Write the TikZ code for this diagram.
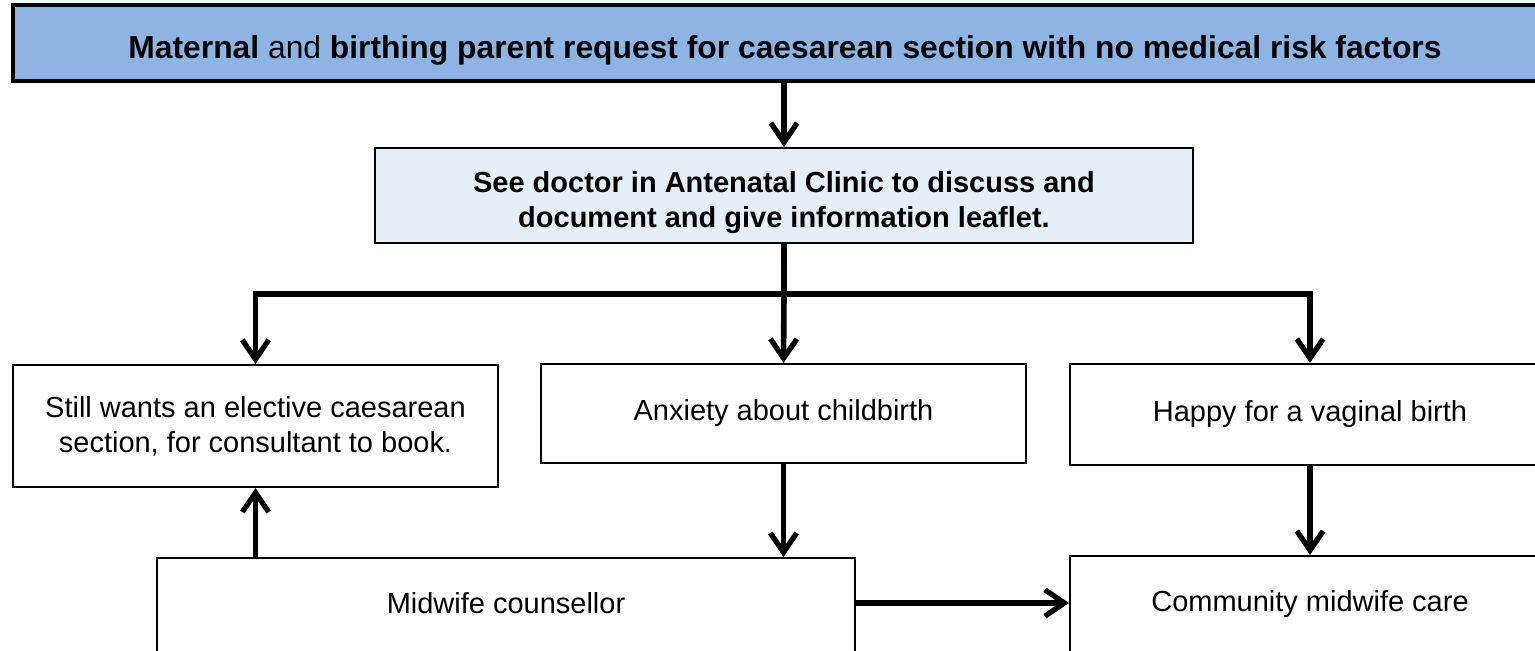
\documentclass[tikz,border=0pt]{standalone}
\usepackage{fontspec}
\setmainfont{Liberation Sans}
\usetikzlibrary{arrows.meta,calc}
\definecolor{topblue}{HTML}{8EB4E3}
\definecolor{paleblue}{HTML}{E6EEF8}
\tikzset{
  box/.style={draw=black, line width=1.2pt, rectangle, inner sep=0pt, align=center, font=\fontsize{16.5}{22}\selectfont},
  arr/.style={line width=3.2pt, -{Straight Barb[length=11pt,width=15pt,line width=3pt]}},
  ln/.style={line width=3.2pt},
}
\begin{document}
\begin{tikzpicture}[x=0.02cm,y=-0.02cm]
\useasboundingbox (0,0) rectangle (1535,651);
\clip (0,0) rectangle (1535,651);
\node[box, fill=topblue, line width=1.8pt, minimum width=1544*0.02cm, minimum height=76*0.02cm] (top) at (785,43)
  {\smash{\raisebox{-9pt}{\fontsize{18.1}{22}\selectfont\textbf{Maternal} and \textbf{birthing parent request for caesarean section with no medical risk factors}}}};
\node[box, fill=paleblue, minimum width=818*0.02cm, minimum height=95*0.02cm,
  label={[yshift=-7*0.02cm, anchor=center, align=center, font=\fontsize{16.5}{20}\selectfont\bfseries]center:See doctor in Antenatal Clinic to discuss and\\document and give information leaflet.}] (doc) at (784,195.5) {};
\node[box, font=\fontsize{16.5}{20}\selectfont, minimum width=485*0.02cm, minimum height=122*0.02cm] (still) at (255.5,426)
  {Still wants an elective caesarean\\section, for consultant to book.};
\node[box, minimum width=485*0.02cm, minimum height=99*0.02cm] (anx) at (783.5,413.5) {Anxiety about childbirth};
\node[box, minimum width=480*0.02cm, minimum height=101*0.02cm] (happy) at (1310,414.5) {Happy for a vaginal birth};
\node[box, anchor=north, minimum width=698*0.02cm, minimum height=120*0.02cm,
  label={[yshift=-46*0.02cm, anchor=center, font=\fontsize{16.5}{22}\selectfont]north:Midwife counsellor}] (mw) at (506,557) {};
\node[box, anchor=north, minimum width=480*0.02cm, minimum height=120*0.02cm,
  label={[yshift=-49*0.02cm, anchor=center, font=\fontsize{16.5}{22}\selectfont]north:Community midwife care}] (cm) at (1310,555) {};
\coordinate (split) at (784,294);
\draw[arr] (top.south -| doc.north) -- (doc.north);
\draw[ln] (doc.south) -- (split);
\draw[ln, line cap=rect] (split -| still.north) -- (split -| happy.north);
\draw[arr] (split -| still.north) -- (still.north);
\draw[arr] (split) -- (anx.north);
\draw[arr] (split -| happy.north) -- (happy.north);
\draw[arr] (anx.south) -- (anx.south |- mw.north);
\draw[arr] (happy.south) -- (cm.north);
\draw[arr] (still.south |- mw.north) -- (still.south);
\draw[arr] ($(mw.north east)+(0,46)$) -- ($(cm.north west)+(0,48)$);
\end{tikzpicture}
\end{document}
